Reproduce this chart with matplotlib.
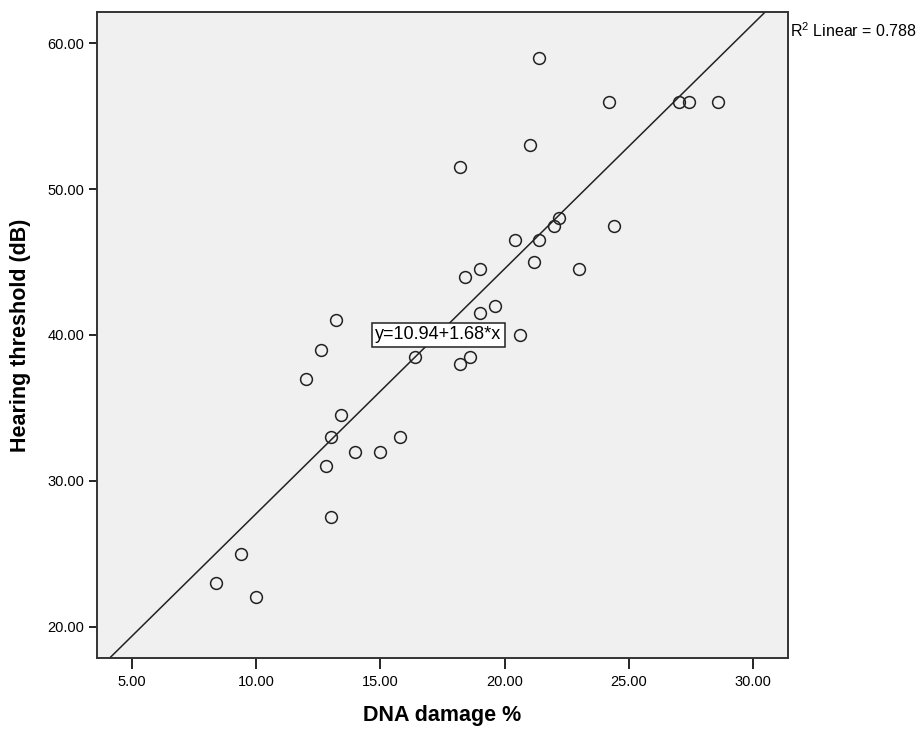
import matplotlib
matplotlib.use("Agg")
import matplotlib.pyplot as plt
import numpy as np

plt.rcParams['font.family'] = ['Liberation Sans', 'DejaVu Sans']

# DNA damage % vs hearing threshold (dB)
dna_damage = [21.4, 24.2, 27.0, 27.4, 28.6, 21.0, 18.2, 22.2, 22.0, 24.4,
              20.4, 21.4, 21.2, 23.0, 19.0, 18.4, 19.6, 19.0, 20.6, 13.2,
              12.6, 12.0, 16.4, 13.4, 13.0, 15.8, 14.0, 15.0, 12.8, 13.0,
              9.4, 8.4, 10.0, 18.2, 18.6]
hearing = [59.0, 56.0, 56.0, 56.0, 56.0, 53.0, 51.5, 48.0, 47.5, 47.5,
           46.5, 46.5, 45.0, 44.5, 44.5, 44.0, 42.0, 41.5, 40.0, 41.0,
           39.0, 37.0, 38.5, 34.5, 33.0, 33.0, 32.0, 32.0, 31.0, 27.5,
           25.0, 23.0, 22.0, 38.0, 38.5]

intercept = 10.94
slope = 1.68
r2 = 0.788

x_ticks = [5, 10, 15, 20, 25, 30]
y_ticks = [20, 30, 40, 50, 60]

fig = plt.figure(figsize=(9.19, 7.32), dpi=100)
ax = fig.add_axes([0.1055, 0.1011, 0.752, 0.883])
ax.set_facecolor('#f0f0f0')

ax.set_xlim(3.6, 31.4)
ax.set_ylim(17.85, 62.17)

# fit line across the whole plot
xx = np.array([3.6, 31.4])
ax.plot(xx, intercept + slope * xx, color='#222222', lw=1.1, zorder=2)

ax.plot(dna_damage, hearing, 'o', ms=8.5, mfc='none', mec='#222222', mew=1.1, zorder=3)

ax.text(17.34, 40.0, 'y=%.2f+%.2f*x' % (intercept, slope), ha='center', va='center',
        fontsize=13,
        bbox=dict(boxstyle='square,pad=0.18', fc='white', ec='#222222', lw=1.1), zorder=4)

ax.text(1.003, 0.985, '$\\mathregular{R^2}$ Linear = %.3f' % r2, transform=ax.transAxes,
        ha='left', va='top', fontsize=11.5)

ax.set_xticks(x_ticks)
ax.set_yticks(y_ticks)
ax.set_xticklabels(['%.2f' % v for v in x_ticks])
ax.set_yticklabels(['%.2f' % v for v in y_ticks])
ax.tick_params(axis='x', direction='out', length=8, width=1.2, labelsize=10.5, pad=4)
ax.tick_params(axis='y', direction='out', length=6, width=1.2, labelsize=10.5, pad=3)

for s in ax.spines.values():
    s.set_color('#333333')
    s.set_linewidth(1.4)

ax.set_xlabel('DNA damage %', fontsize=15.5, fontweight='bold', labelpad=12)
ax.set_ylabel('Hearing threshold (dB)', fontsize=15.5, fontweight='bold', labelpad=12)

fig.savefig('out.png', dpi=100, facecolor='white')
